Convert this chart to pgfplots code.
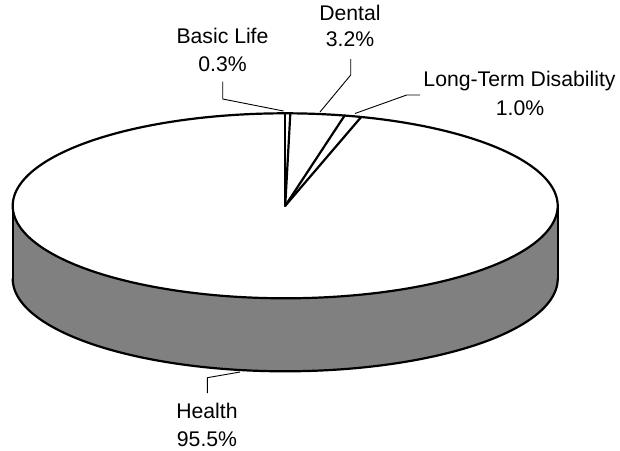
\documentclass[border=0pt]{standalone}
\usepackage{pgfplots}
\pgfplotsset{compat=1.18}
\usepackage{fontspec}
\setmainfont{Liberation Sans}
\definecolor{sidegray}{HTML}{808080}
% slice shares (percent), clockwise from 12 o'clock
\def\vBasic{0.3}
\def\vDental{3.2}
\def\vLTD{1.0}
\def\vHealth{95.5}
% geometry (pixel units, y downward)
\def\cx{285.2}
\def\cy{205.8}
\def\rx{272.5}
\def\ry{92.5}
\def\dep{73}
\pgfmathsetmacro\aA{90}
\pgfmathsetmacro\aB{\aA-3.6*\vBasic}
\pgfmathsetmacro\aC{\aB-3.6*\vDental}
\pgfmathsetmacro\aD{\aC-3.6*\vLTD}
\pgfmathsetmacro\xL{\cx-\rx}
\pgfmathsetmacro\xR{\cx+\rx}
\pgfmathsetmacro\yB{\cy+\dep}
\begin{document}
\begin{tikzpicture}
\begin{axis}[
  width=620pt, height=450pt, scale only axis,
  xmin=0, xmax=620, ymin=0, ymax=450, y dir=reverse,
  hide axis, clip=false,
  every axis plot/.append style={line join=round, line cap=round},
]
% side (Health, front)
\addplot[fill=sidegray, draw=none, domain=0:360, samples=240] ({\cx+\rx*cos(x)}, {\yB-\ry*sin(x)});
\addplot[fill=sidegray, draw=none] coordinates {(\xL,\cy) (\xR,\cy) (\xR,\yB) (\xL,\yB)} -- cycle;
% top face
\addplot[fill=white, draw=black, line width=2.2pt, domain=0:360, samples=300] ({\cx+\rx*cos(x)}, {\cy-\ry*sin(x)}) -- cycle;
% side outlines
\addplot[draw=black, line width=2.2pt, domain=180:360, samples=200] ({\cx+\rx*cos(x)}, {\yB-\ry*sin(x)});
\addplot[draw=black, line width=2.2pt] coordinates {(\xL,\cy) (\xL,\yB)};
\addplot[draw=black, line width=2.2pt] coordinates {(\xR,\cy) (\xR,\yB)};
% slice edges
\foreach \ang in {\aA,\aB,\aC,\aD}{
  \addplot[draw=black, line width=2.2pt, domain=0:1, samples=2] ({\cx+x*\rx*cos(\ang)}, {\cy-x*\ry*sin(\ang)});
}
% leader lines
\addplot[draw=black, line width=0.9pt, line cap=butt] coordinates {(222.7,81.5) (222.7,99) (283.5,111)};
\addplot[draw=black, line width=0.9pt, line cap=butt] coordinates {(350.7,59) (350.7,75) (320,112)};
\addplot[draw=black, line width=0.9pt, line cap=butt] coordinates {(420,95) (406.7,95) (355,113.5)};
\addplot[draw=black, line width=0.9pt, line cap=butt] coordinates {(207.3,393) (207.3,377.7) (240,372)};
% labels
\tikzset{lab/.style={anchor=base, inner sep=0pt, font=\fontsize{21.2}{25}\selectfont}}
\node[lab] at (axis cs:222.5,43.3) {Basic Life};
\node[lab] at (axis cs:222.5,71) {0.3\%};
\node[lab] at (axis cs:350,20) {Dental};
\node[lab] at (axis cs:350,46.7) {3.2\%};
\node[lab] at (axis cs:519.5,86.7) {Long-Term Disability};
\node[lab] at (axis cs:520,115) {1.0\%};
\node[lab] at (axis cs:207,418.3) {Health};
\node[lab] at (axis cs:207,446) {95.5\%};
\end{axis}
\pgfresetboundingbox
\path (current axis.south west) rectangle (current axis.north east);
\end{tikzpicture}
\end{document}
